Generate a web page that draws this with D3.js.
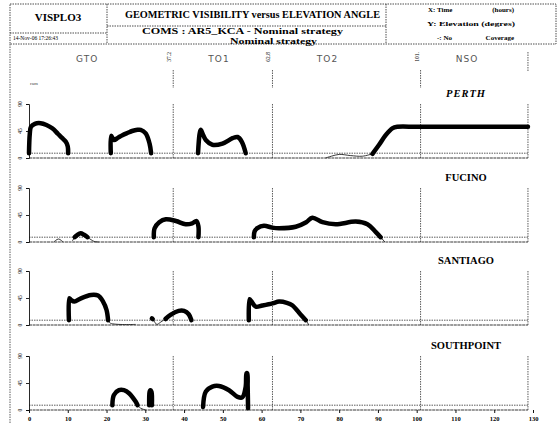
<!DOCTYPE html>
<html>
<head>
<meta charset="utf-8">
<script src="https://cdn.jsdelivr.net/npm/d3@7"></script>
<style>
body { margin: 0; background: #fff; }
svg { display: block; }
</style>
</head>
<body>
<svg id="chart" width="558" height="423"></svg>
<script>
// phases and time axis (hours)
const phases = ["GTO", "TO1", "TO2", "NSO"]
const phaseMid = [15, 49, 77, 113]
const phaseEdges = [37.2, 62.8, 101]
const phaseEdgeLabels = ["37.2", "62.8", "101."]
const endTime = 128.7
const xTicks = [0, 10, 20, 30, 40, 50, 60, 70, 80, 90, 100, 110, 120, 130]
const yTicks = [0, 45, 90]
const stations = ["PERTH", "FUCINO", "SANTIAGO", "SOUTHPOINT"]
const minElevation = 8

// [time, elevation] - thick = visible, thin = below mask
const perthVis = [
  [[0, 8], [0.2, 40], [0.5, 52], [1.5, 57], [3, 58], [4.5, 55], [6, 49.5], [7.5, 40], [8.6, 33], [9.5, 27], [10, 19], [10.1, 8]],
  [[21.1, 8], [21.2, 37], [21.9, 30], [23, 34], [24.1, 38], [25.5, 42], [26.6, 45], [28, 47], [28.8, 47], [30.1, 41], [31.1, 24], [31.5, 8]],
  [[43.6, 8], [44, 40], [44.3, 47], [44.8, 40], [45.6, 30], [47.3, 22], [49.9, 24], [52.5, 33], [53.8, 35], [54.9, 27], [55.9, 8]],
  [[88.6, 7], [90.3, 22], [92, 38], [93.7, 49.5], [95, 52], [100, 52], [110, 52], [120, 52], [128.7, 52]]
]
const perthLow = [
  [[76.5, 0], [78, 3], [80, 6], [83, 4], [86, 3], [88.6, 7]]
]
const fucinoVis = [
  [[11.8, 8], [12.5, 12], [13.3, 14.4], [14.2, 12], [15.1, 8]],
  [[32.2, 8], [32.4, 23], [33.6, 33], [35.3, 38], [37.9, 35], [40.4, 29.5], [42.1, 31], [43.2, 35], [43.7, 26], [43.7, 8]],
  [[58, 8], [58.2, 18], [58.9, 23], [60.6, 27], [62.7, 24], [64.5, 23], [68.8, 25.5], [71.5, 33], [73.1, 40.5], [75.7, 33], [79.1, 29.5], [84.3, 34], [87.3, 29.5], [89.4, 17], [90.7, 8]]
]
const fucinoLow = [
  [[6.4, 0], [7.6, 5], [8.8, 0]],
  [[11.2, 2], [11.8, 8]],
  [[15.1, 8], [16.8, 1], [18, 0]],
  [[90.7, 8], [91.8, 0]]
]
const santiagoVis = [
  [[10.3, 8], [10.4, 44.5], [10.8, 42], [11.7, 39], [13.4, 44.5], [16, 50], [17.8, 49], [19.1, 39], [20, 25], [20.4, 8]],
  [[31.7, 11], [31.9, 10]],
  [[35.2, 10], [36.5, 17], [38.6, 23.5], [40, 23.5], [41.2, 18], [41.9, 8]],
  [[56.7, 8], [56.9, 43], [57.3, 40], [58.5, 30.5], [60.2, 32.5], [62.8, 36], [64.5, 39], [66.5, 37], [67.9, 33], [70.1, 17], [71.4, 8]]
]
const santiagoLow = [
  [[20.4, 8], [21, 3], [27.5, 1]],
  [[31.8, 11], [32.4, 5], [33, 1], [34, 5], [35.2, 10]],
  [[71.4, 8], [72.2, 0]]
]
const southpointVis = [
  [[21.5, 8], [21.9, 25], [23.2, 33], [24.5, 33], [25.8, 28], [27.5, 14], [28, 8]],
  [[31, 8], [31.1, 30], [31.3, 33], [31.6, 30], [31.7, 8]],
  [[44.9, 5], [45.6, 30.5], [47.3, 39], [49, 40], [51.6, 33], [53.8, 22], [55, 21], [55.9, 39], [56.1, 61], [56.3, 61], [56.4, 40], [56.5, 3]]
]
const southpointLow = [
  [[28, 8], [28.8, 3], [30.1, 0]]
]
const visible = [perthVis, fucinoVis, santiagoVis, southpointVis]
const below = [perthLow, fucinoLow, santiagoLow, southpointLow]

const svg = d3.select("#chart")
const serif = "'Liberation Serif', 'DejaVu Serif', serif"
const dotted = "1.5,1"

const x = d3.scaleLinear().domain([0, 130]).range([29, 533])
const panelBase = [158, 242, 325, 410]
const panelH = 54

// ---- header ----
const head = svg.append("g")
  .attr("stroke", "#222").attr("stroke-width", 0.8).attr("stroke-dasharray", dotted).attr("fill", "none")
head.append("rect").attr("x", 10).attr("y", 4).attr("width", 546).attr("height", 40)
head.append("line").attr("x1", 107).attr("x2", 107).attr("y1", 4).attr("y2", 44)
head.append("line").attr("x1", 386).attr("x2", 386).attr("y1", 4).attr("y2", 44)
head.append("line").attr("x1", 10).attr("x2", 107).attr("y1", 33).attr("y2", 33)
head.append("line").attr("x1", 107).attr("x2", 386).attr("y1", 26).attr("y2", 26)
// page border on the left
svg.append("line").attr("x1", 10).attr("x2", 10).attr("y1", 44).attr("y2", 423)
  .attr("stroke", "#333").attr("stroke-width", 0.8).attr("stroke-dasharray", dotted)

svg.append("text").attr("x", 58).attr("y", 21).attr("text-anchor", "middle")
  .attr("font-family", serif).attr("font-weight", "bold").attr("font-size", 11).text("VISPLO3")
svg.append("text").attr("x", 13).attr("y", 40)
  .attr("font-family", serif).attr("font-size", 5.5).text("14-Nov-06  17:26:43")
svg.append("text").attr("x", 125).attr("y", 18)
  .attr("font-family", serif).attr("font-weight", "bold").attr("font-size", 10.5)
  .attr("textLength", 255).attr("lengthAdjust", "spacingAndGlyphs")
  .text("GEOMETRIC VISIBILITY versus ELEVATION ANGLE")
svg.append("text").attr("x", 142).attr("y", 34)
  .attr("font-family", serif).attr("font-weight", "bold").attr("font-size", 8.5)
  .attr("textLength", 201).attr("lengthAdjust", "spacingAndGlyphs")
  .text("COMS : AR5_KCA - Nominal strategy")
svg.append("text").attr("x", 230).attr("y", 44)
  .attr("font-family", serif).attr("font-weight", "bold").attr("font-size", 8)
  .attr("textLength", 87).attr("lengthAdjust", "spacingAndGlyphs")
  .text("Nominal strategy")

const legendLines = [["X: Time", "(hours)", 12], ["Y: Elevation (degres)", "", 26], ["-: No", "Coverage", 40]]
legendLines.forEach(function(d) {
  const t = svg.append("text").attr("font-family", serif).attr("font-weight", "bold")
    .attr("font-size", 7).attr("y", d[2])
  if (d[1]) {
    t.attr("x", d[0] === "-: No" ? 437 : 428).text(d[0])
    svg.append("text").attr("font-family", serif).attr("font-weight", "bold").attr("font-size", 7)
      .attr("y", d[2]).attr("x", 514).attr("text-anchor", "end").text(d[1])
  } else {
    t.attr("x", 427).attr("textLength", 88).attr("lengthAdjust", "spacingAndGlyphs").text(d[0])
  }
})

// ---- phase labels and boundaries ----
svg.selectAll(".phase").data(phases).join("text")
  .attr("x", function(d, i) { return x(phaseMid[i]) })
  .attr("y", 62).attr("text-anchor", "middle")
  .attr("font-family", "'DejaVu Sans', sans-serif").attr("font-size", 9)
  .attr("letter-spacing", 1).attr("fill", "#555").text(function(d) { return d })

phaseEdges.forEach(function(t, i) {
  svg.append("text")
    .attr("transform", "translate(" + (x(t) - 2) + ",52) rotate(-90)")
    .attr("text-anchor", "end").attr("font-family", serif).attr("font-size", 5.5)
    .text(phaseEdgeLabels[i])
  svg.append("line").attr("x1", x(t)).attr("x2", x(t)).attr("y1", 70).attr("y2", 88)
    .attr("stroke", "#333").attr("stroke-width", 0.8).attr("stroke-dasharray", dotted)
})
svg.append("line").attr("x1", x(endTime)).attr("x2", x(endTime)).attr("y1", 52).attr("y2", 72)
  .attr("stroke", "#333").attr("stroke-width", 0.8).attr("stroke-dasharray", dotted)
svg.append("text").attr("x", 30).attr("y", 85)
  .attr("font-family", serif).attr("font-size", 5).attr("fill", "#444").text("ram")

// ---- panels ----
stations.forEach(function(name, i) {
  const base = panelBase[i]
  const y = d3.scaleLinear().domain([0, 90]).range([base, base - panelH])
  const g = svg.append("g")
  const line = d3.line()
    .x(function(d) { return x(d[0]) })
    .y(function(d) { return y(d[1]) })
    .curve(d3.curveCatmullRom.alpha(0.5))

  // mask and zero lines
  g.append("line").attr("x1", x(0)).attr("x2", x(endTime))
    .attr("y1", y(minElevation)).attr("y2", y(minElevation))
    .attr("stroke", "#333").attr("stroke-width", 0.8).attr("stroke-dasharray", dotted)
  g.append("line").attr("x1", x(0)).attr("x2", x(endTime))
    .attr("y1", y(0)).attr("y2", y(0))
    .attr("stroke", "#222").attr("stroke-width", 0.9).attr("stroke-dasharray", "3,0.6")

  // phase boundaries
  phaseEdges.concat([endTime]).forEach(function(t) {
    g.append("line").attr("x1", x(t)).attr("x2", x(t)).attr("y1", y(90)).attr("y2", y(0))
      .attr("stroke", "#333").attr("stroke-width", 0.8).attr("stroke-dasharray", dotted)
  })

  // y axis
  g.append("g").attr("transform", "translate(" + x(0) + ",0)")
    .call(d3.axisLeft(y).tickValues(yTicks).tickSize(3).tickFormat(""))
    .call(function(a) {
      a.selectAll("line,path").attr("stroke", "#111").attr("stroke-width", 0.9)
    })
  g.selectAll(".ylab").data(yTicks).join("text")
    .attr("transform", function(d) { return "translate(" + (x(0) - 7) + "," + y(d) + ") rotate(-90)" })
    .attr("text-anchor", "middle").attr("font-family", serif).attr("font-size", 5.5)
    .text(function(d) { return d })

  // station name
  g.append("text").attr("x", 466).attr("y", base - 61).attr("text-anchor", "middle")
    .attr("font-family", serif).attr("font-weight", "bold").attr("font-size", 10.5)
    .attr("letter-spacing", i === 0 ? 1 : 0)
    .attr("font-style", i === 0 ? "italic" : "normal").text(name)

  // below-mask traces
  g.selectAll(".low").data(below[i]).join("path")
    .attr("d", line).attr("fill", "none").attr("stroke", "#222").attr("stroke-width", 0.9)

  // visibility traces
  g.selectAll(".vis").data(visible[i]).join("path")
    .attr("d", line).attr("fill", "none").attr("stroke", "#000")
    .attr("stroke-width", 4.5).attr("stroke-linecap", "round").attr("stroke-linejoin", "round")

  // time axis on the last panel
  if (i === stations.length - 1) {
    g.append("g").attr("transform", "translate(0," + base + ")")
      .call(d3.axisBottom(x).tickValues(xTicks).tickSize(3).tickPadding(3))
      .call(function(a) {
        a.select(".domain").remove()
        a.selectAll("line").attr("stroke", "#111")
        a.selectAll("text").attr("font-family", serif).attr("font-weight", "bold").attr("font-size", 6.5)
      })
  }
})
</script>
</body>
</html>
